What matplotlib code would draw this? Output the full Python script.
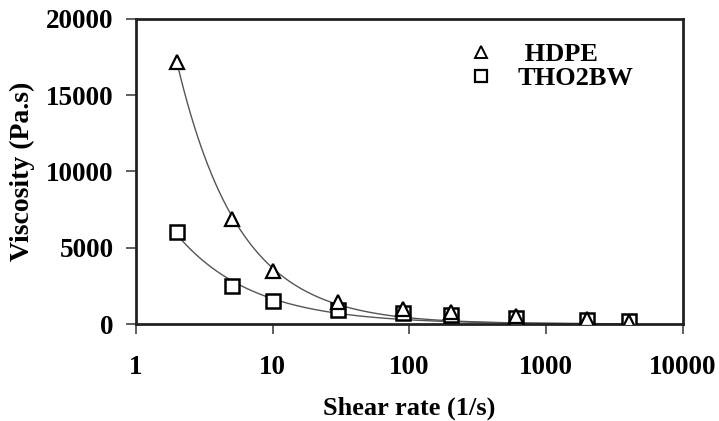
import numpy as np
import matplotlib
matplotlib.use("Agg")
import matplotlib.pyplot as plt
from matplotlib.lines import Line2D

shear_rate = [2, 5, 10, 30, 90, 200, 600, 2000, 4000]
hdpe = [17200, 6900, 3500, 1450, 1000, 800, 550, 350, 150]
tho2bw = [6000, 2500, 1500, 900, 700, 580, 400, 250, 200]
series_names = [" HDPE", "THO2BW"]
x_ticks = [1, 10, 100, 1000, 10000]
y_ticks = [0, 5000, 10000, 15000, 20000]

plt.rcParams['font.family'] = ['Liberation Serif', 'DejaVu Serif']
plt.rcParams['font.weight'] = 'bold'

fig = plt.figure(figsize=(7.19, 4.21), dpi=100)
ax = fig.add_axes([0.189, 0.2304, 0.761, 0.7246])


def power_fit(x, y):
    x = np.asarray(x, float)
    y = np.asarray(y, float)
    best = None
    for m in np.linspace(0.3, 1.5, 1201):
        g = x ** (-m)
        k = np.sum(y * g) / np.sum(g * g)
        err = np.sum((y - k * g) ** 2)
        if best is None or err < best[0]:
            best = (err, k, m)
    return best[1], best[2]


xs = np.logspace(np.log10(shear_rate[0]), np.log10(shear_rate[-1]), 400)
for vals in (hdpe, tho2bw):
    k, m = power_fit(shear_rate, vals)
    ax.plot(xs, k * xs ** (-m), color='#555555', lw=1.0, zorder=2)

ax.plot(shear_rate, tho2bw, ls='none', marker='s', ms=9.5, mfc='white',
        mec='black', mew=1.8, zorder=3)
ax.plot(shear_rate, hdpe, ls='none', marker='^', ms=10.5, mfc='white',
        mec='black', mew=1.6, zorder=4)

ax.set_xscale('log')
ax.set_xlim(1, 10000)
ax.set_ylim(0, 20000)
ax.set_xticks(x_ticks)
ax.set_xticklabels([str(t) for t in x_ticks])
ax.xaxis.set_minor_locator(matplotlib.ticker.NullLocator())
ax.set_yticks(y_ticks)
ax.set_yticklabels([str(t) for t in y_ticks])

for s in ax.spines.values():
    s.set_linewidth(2.0)
    s.set_color('#222222')
ax.tick_params(axis='both', direction='out', length=7, width=1.2,
               color='#444444', labelsize=19.5, pad=9)
ax.tick_params(axis='x', pad=15)

ax.set_xlabel('Shear rate (1/s)', fontsize=19, fontweight='bold', labelpad=12)
ax.set_ylabel('Viscosity (Pa.s)', fontsize=20, fontweight='bold', labelpad=8)

handles = [
    Line2D([], [], ls='none', marker='^', ms=9, mfc='white', mec='black', mew=1.4),
    Line2D([], [], ls='none', marker='s', ms=8.5, mfc='white', mec='black', mew=1.6),
]
ax.legend(handles, series_names, loc='upper left', bbox_to_anchor=(0.573, 0.982),
          frameon=False, handletextpad=0.9, labelspacing=0.0,
          handlelength=1.0, borderpad=0.2,
          prop={'weight': 'bold', 'size': 19})

fig.savefig('out.png', dpi=100)
